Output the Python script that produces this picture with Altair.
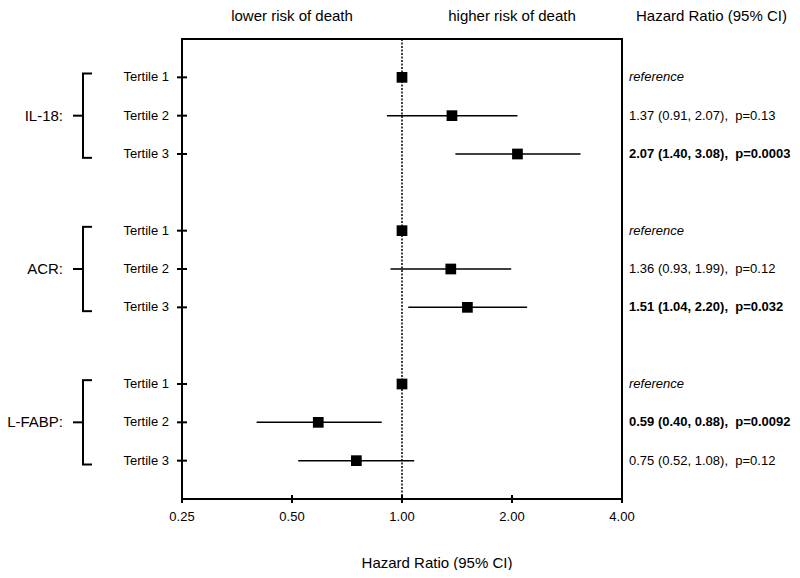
import altair as alt
import pandas as pd

FONT = "Liberation Sans"
NB = "\u00a0"

# ---- data ----
groups = ["IL-18:", "IL-18:", "IL-18:", "ACR:", "ACR:", "ACR:", "L-FABP:", "L-FABP:", "L-FABP:"]
tertiles = ["Tertile 1", "Tertile 2", "Tertile 3"] * 3
rows = [0, 1, 2, 4, 5, 6, 8, 9, 10]
hr = [1.00, 1.37, 2.07, 1.00, 1.36, 1.51, 1.00, 0.59, 0.75]
ci_lo = [None, 0.91, 1.40, None, 0.93, 1.04, None, 0.40, 0.52]
ci_hi = [None, 2.07, 3.08, None, 1.99, 2.20, None, 0.88, 1.08]
result_text = [
    "reference", "1.37 (0.91, 2.07)," + NB + " p=0.13", "2.07 (1.40, 3.08)," + NB + " p=0.0003",
    "reference", "1.36 (0.93, 1.99)," + NB + " p=0.12", "1.51 (1.04, 2.20)," + NB + " p=0.032",
    "reference", "0.59 (0.40, 0.88)," + NB + " p=0.0092", "0.75 (0.52, 1.08)," + NB + " p=0.12",
]
result_style = ["italic", "normal", "bold", "italic", "normal", "bold", "italic", "bold", "normal"]
x_ticks = [0.25, 0.5, 1.0, 2.0, 4.0]
x_tick_labels = ["0.25", "0.50", "1.00", "2.00", "4.00"]
x_title = "Hazard Ratio (95% CI)"
x_min, x_null, x_max = 0.25, 1.0, 4.0
y_min, y_max = -1, 11
headers = ["lower risk of death", "higher risk of death", "Hazard Ratio (95% CI)"]
header_x = [0.5, 2.0, 4.0]

df = pd.DataFrame({
    "grp": groups, "tert": tertiles, "rowpos": rows, "hr": hr,
    "lo": ci_lo, "hi": ci_hi, "label": result_text, "fstyle": result_style,
})
df["xmin"] = x_min
df["xmax"] = x_max
ci_df = df.dropna(subset=["lo"]).copy()
br = df.groupby("grp", sort=False)["rowpos"].agg(["min", "max"]).reset_index()
br.columns = ["grp", "rmin", "rmax"]
br["top"] = br["rmin"] - 0.1
br["bottom"] = br["rmax"] + 0.1
br["mid"] = (br["rmin"] + br["rmax"]) / 2
br["xmin"] = x_min

xscale = alt.Scale(type="log", base=2, domain=[x_min, x_max])
yscale = alt.Scale(domain=[y_min, y_max], reverse=True)


def xe(field):
    return alt.X(field, scale=xscale, axis=None)


def ye(field):
    return alt.Y(field, scale=yscale, axis=None)


base = alt.Chart(df)

squares = base.mark_square(color="black", size=115, opacity=1).encode(
    x=xe("hr:Q"), y=ye("rowpos:Q"))

# dotted reference line
ref_line = alt.Chart(pd.DataFrame({"ref": [x_null]})).mark_rule(
    color="black", strokeWidth=1.5, strokeDash=[2, 1.5]
).encode(x=xe("ref:Q"))

# CI bars
ci = alt.Chart(ci_df).mark_rule(color="black", strokeWidth=1.5).encode(
    x=xe("lo:Q"), x2="hi:Q", y=ye("rowpos:Q"))

# crossing ticks on the left edge
ytick = base.mark_rule(color="black", strokeWidth=2, xOffset=-5, x2Offset=5).encode(
    x=xe("xmin:Q"), x2="xmin:Q", y=ye("rowpos:Q"))

# x-axis ticks, labels and title
xt = pd.DataFrame({"v": x_ticks, "lab": x_tick_labels})
xt["yb"] = y_max
xtick = alt.Chart(xt).mark_rule(color="black", strokeWidth=2, yOffset=-4, y2Offset=4).encode(
    x=xe("v:Q"), y=ye("yb:Q"), y2="yb:Q")
xlab = alt.Chart(xt).mark_text(align="center", baseline="middle", dy=18, font=FONT,
                               fontSize=13, color="black").encode(
    x=xe("v:Q"), y=ye("yb:Q"), text="lab:N")
xtt = pd.DataFrame({"t": [x_title], "xv": [x_null], "yb": [y_max]})
xtitle = alt.Chart(xtt).mark_text(align="center", baseline="middle", dy=64, dx=35,
                                  font=FONT, fontSize=15, color="black").encode(
    x=xe("xv:Q"), y=ye("yb:Q"), text="t:N")

tert_lbl = base.mark_text(align="right", baseline="middle", dx=-13, font=FONT,
                          fontSize=13, color="black").encode(
    x=xe("xmin:Q"), y=ye("rowpos:Q"), text="tert:N")

layers = [ref_line, ci, squares, ytick, xtick, xlab, xtitle, tert_lbl]

for st in ["italic", "normal", "bold"]:
    layers.append(
        alt.Chart(df[df["fstyle"] == st]).mark_text(
            align="left", baseline="middle", dx=7, font=FONT, fontSize=13,
            fontStyle="italic" if st == "italic" else "normal",
            fontWeight="bold" if st == "bold" else "normal", color="black",
        ).encode(x=xe("xmax:Q"), y=ye("rowpos:Q"), text="label:N")
    )

brc = alt.Chart(br)
bracket_v = brc.mark_rule(color="black", strokeWidth=2, xOffset=-99, x2Offset=-99).encode(
    x=xe("xmin:Q"), x2="xmin:Q", y=ye("top:Q"), y2="bottom:Q")
bracket_t = brc.mark_rule(color="black", strokeWidth=2, xOffset=-100, x2Offset=-90).encode(
    x=xe("xmin:Q"), x2="xmin:Q", y=ye("top:Q"))
bracket_b = brc.mark_rule(color="black", strokeWidth=2, xOffset=-100, x2Offset=-90).encode(
    x=xe("xmin:Q"), x2="xmin:Q", y=ye("bottom:Q"))
bracket_m = brc.mark_rule(color="black", strokeWidth=2, xOffset=-109, x2Offset=-99).encode(
    x=xe("xmin:Q"), x2="xmin:Q", y=ye("mid:Q"))
grp_lbl = brc.mark_text(align="right", baseline="middle", dx=-119, font=FONT,
                        fontSize=15, color="black").encode(
    x=xe("xmin:Q"), y=ye("mid:Q"), text="grp:N")

hd = pd.DataFrame({"t": headers, "hx": header_x})
hd["yt"] = y_min
hdr = alt.Chart(hd.iloc[:2]).mark_text(
    align="center", baseline="middle", dy=-23, font=FONT, fontSize=15, color="black"
).encode(x=xe("hx:Q"), y=ye("yt:Q"), text="t:N")
hdr_r = alt.Chart(hd.iloc[2:]).mark_text(
    align="left", baseline="middle", dy=-23, dx=14, font=FONT, fontSize=15, color="black"
).encode(x=xe("hx:Q"), y=ye("yt:Q"), text="t:N")

layers += [bracket_v, bracket_t, bracket_b, bracket_m, grp_lbl, hdr, hdr_r]

chart = alt.layer(*layers).properties(
    width=440, height=460,
    autosize=alt.AutoSizeParams(type="none"),
    padding={"left": 174, "top": 31, "right": 170, "bottom": 71},
).configure(background="white").configure_view(stroke="black", strokeWidth=2)

chart.save("out.html", embed_options={"renderer": "svg", "actions": False})
